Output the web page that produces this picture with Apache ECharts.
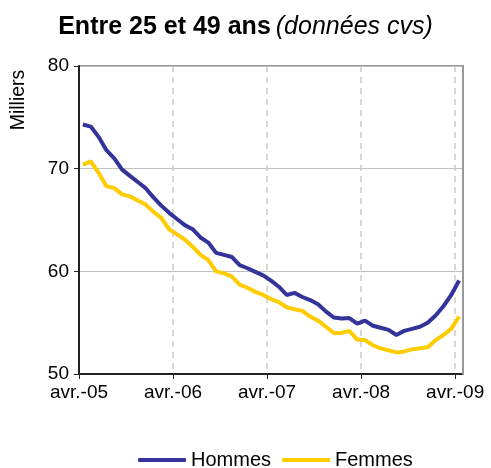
<!DOCTYPE html>
<html>
<head>
<meta charset="utf-8">
<script src="https://cdn.jsdelivr.net/npm/echarts@6/dist/echarts.min.js"></script>
<style>
  html, body { margin: 0; padding: 0; background: #fff; }
  #chart { width: 491px; height: 468px; }
</style>
</head>
<body>
<div id="chart"></div>
<script>
// étiquettes de l'axe des x (une par an, avril)
const tickLabels = ['avr.-05', 'avr.-06', 'avr.-07', 'avr.-08', 'avr.-09'];
const tickMonths = [0, 12, 24, 36, 48];

// séries mensuelles, avr.-05 -> avr.-09 (milliers, cvs)
const hommes = [
  74.3, 74.1, 73.1, 71.8, 71.0, 69.9, 69.3, 68.7, 68.1, 67.2, 66.4, 65.7,
  65.1, 64.5, 64.1, 63.3, 62.8, 61.8, 61.6, 61.4, 60.6, 60.3, 59.95, 59.6,
  59.1, 58.5, 57.7, 57.9, 57.5, 57.2, 56.8, 56.1, 55.5, 55.4, 55.45, 54.9,
  55.2, 54.7, 54.5, 54.3, 53.8, 54.2, 54.4, 54.6, 55.0, 55.7, 56.6, 57.7,
  59.1
];
const femmes = [
  70.4, 70.7, 69.6, 68.3, 68.1, 67.5, 67.3, 66.9, 66.5, 65.8, 65.2, 64.1,
  63.6, 63.1, 62.4, 61.6, 61.1, 60.0, 59.8, 59.5, 58.7, 58.4, 58.0, 57.7,
  57.3, 57.0, 56.5, 56.3, 56.15, 55.6, 55.2, 54.6, 54.0, 54.0, 54.2, 53.35,
  53.3, 52.8, 52.5, 52.3, 52.1, 52.2, 52.4, 52.5, 52.6, 53.3, 53.8, 54.4,
  55.6
];

const FONT = 'Liberation Sans, Arial, sans-serif';

// chaque mois est placé au milieu de son intervalle
const toPoints = (arr) => arr.map((v, i) => [i + 0.5, v]);

const chart = echarts.init(document.getElementById('chart'));

chart.setOption({
  animation: false,
  title: {
    text: '{b|Entre 25 et 49 ans} {i|(données cvs)}',
    left: 'center',
    top: 10,
    textStyle: {
      rich: {
        b: { fontFamily: FONT, fontSize: 25, fontWeight: 'bold', color: '#000' },
        i: { fontFamily: FONT, fontSize: 25, fontWeight: 'normal', fontStyle: 'italic', color: '#000' }
      }
    }
  },
  graphic: [
    {
      type: 'text',
      x: 19,
      y: 100,
      rotation: Math.PI / 2,
      style: {
        text: 'Milliers',
        font: '19.5px ' + FONT,
        fill: '#000',
        align: 'center',
        verticalAlign: 'middle'
      }
    }
  ],
  legend: {
    left: 133,
    top: 445,
    icon: 'roundRect',
    itemWidth: 48,
    itemHeight: 4,
    itemGap: 11,
    textStyle: { fontFamily: FONT, fontSize: 20, color: '#000' },
    data: ['Hommes', 'Femmes']
  },
  grid: {
    left: 79,
    right: 28,
    top: 66,
    bottom: 94,
    show: true,
    borderColor: '#999',
    borderWidth: 2
  },
  xAxis: {
    type: 'value',
    min: 0,
    max: 49,
    interval: 12,
    axisLine: { show: true, lineStyle: { color: '#222', width: 2 } },
    axisTick: { show: true, length: 5, customValues: tickMonths, lineStyle: { color: '#222' } },
    axisLabel: {
      customValues: tickMonths,
      margin: 9,
      fontFamily: FONT,
      fontSize: 19,
      color: '#000',
      formatter: (v) => tickLabels[tickMonths.indexOf(v)]
    },
    splitLine: { show: true, lineStyle: { color: '#ccc', type: [6, 5], width: 1.5 } }
  },
  yAxis: [
    {
      type: 'value',
      min: 50,
      max: 80,
      interval: 10,
      axisLine: { show: true, lineStyle: { color: '#222', width: 2 } },
      axisTick: { show: true, length: 5, lineStyle: { color: '#222' } },
      axisLabel: { margin: 10, fontFamily: FONT, fontSize: 19, color: '#000' },
      splitLine: { show: true, lineStyle: { color: '#c0c0c0', width: 1 } }
    },
    {
      // bord droit du cadre, par-dessus la dernière ligne pointillée
      type: 'value',
      position: 'right',
      min: 50,
      max: 80,
      interval: 10,
      z: 3,
      axisLine: { show: true, lineStyle: { color: '#999', width: 2 } },
      axisTick: { show: false },
      axisLabel: { show: false },
      splitLine: { show: false }
    }
  ],
  series: [
    {
      name: 'Hommes',
      type: 'line',
      symbol: 'none',
      data: toPoints(hommes),
      itemStyle: { color: '#333399' },
      lineStyle: { color: '#333399', width: 4 }
    },
    {
      name: 'Femmes',
      type: 'line',
      symbol: 'none',
      data: toPoints(femmes),
      itemStyle: { color: '#FFCC00' },
      lineStyle: { color: '#FFCC00', width: 4 }
    }
  ]
});
</script>
</body>
</html>
